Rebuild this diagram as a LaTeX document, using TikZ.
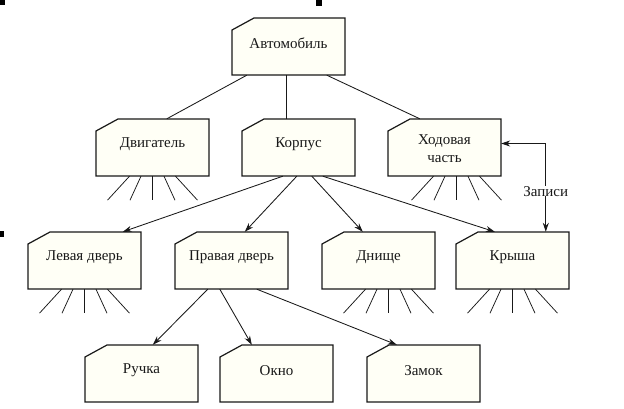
\documentclass[tikz,border=0pt]{standalone}
\usepackage{fontspec}
\setmainfont{Liberation Serif}
\usetikzlibrary{arrows.meta}
\definecolor{boxfill}{RGB}{255,255,246}
\definecolor{linec}{RGB}{25,25,25}
\tikzset{
  boxline/.style={draw=linec, line width=1.2pt, fill=boxfill},
  boxtext/.style={draw=none, rectangle, inner sep=0pt, minimum width=113pt, minimum height=57pt},
  txt/.style={font=\fontsize{15}{18}\selectfont, align=center, inner sep=0pt, text=linec},
  conn/.style={draw=linec, line width=0.85pt},
  arr/.style={conn, -{Stealth[length=9pt,width=6pt]}},
  darr/.style={conn, {Stealth[length=9pt,width=6pt]}-{Stealth[length=9pt,width=6pt]}},
  ray/.style={draw=linec, line width=0.75pt},
  speck/.style={fill=black, draw=none}
}
% name, x, y, text, vertical text shift
\newcommand\cbox[5]{%
  \path[boxline] (#2,#3+12) -- (#2+22,#3) -- (#2+113,#3) -- (#2+113,#3+57) -- (#2,#3+57) -- cycle;
  \node[boxtext, label={[txt, yshift=#5pt]center:#4}] (#1) at (#2+56.5,#3+28.5) {};}
\newcommand\rays[2]{%
  \foreach \i in {-2,...,2}{
    \draw[ray] ([xshift=#2pt+\i*11.5pt]#1.south) -- ([xshift=#2pt+\i*22.5pt,yshift=-24pt]#1.south);}}
\begin{document}
\begin{tikzpicture}[x=1pt,y=-1pt]
\useasboundingbox (0,0) rectangle (624,409);
\fill[white] (0,0) rectangle (624,409);
% scan specks
\path[speck] (0,0) rectangle (5,5);
\path[speck] (316,0) rectangle (322,6);
\path[speck] (0,231) rectangle (4,237);
% boxes
\cbox{avto}{232}{18}{Автомобиль}{3}
\cbox{dvig}{96}{119}{Двигатель}{3}
\cbox{korp}{242}{119}{Корпус}{3}
\cbox{hod}{388}{119}{Ходовая\\часть}{-1}
\cbox{lev}{28}{232}{Левая дверь}{3}
\cbox{prav}{175}{232}{Правая дверь}{3}
\cbox{dnis}{322}{232}{Днище}{3}
\cbox{krysha}{456}{232}{Крыша}{3}
\cbox{ruch}{85}{345}{Ручка}{3}
\cbox{okno}{220}{345}{Окно}{3}
\cbox{zamok}{367}{345}{Замок}{3}
% rays
\rays{dvig}{0}
\rays{hod}{12}
\rays{lev}{0}
\rays{dnis}{10}
\rays{krysha}{0}
% top level connectors
\draw[conn] ([xshift=15pt]avto.south west) -- ([xshift=71pt]dvig.north west);
\draw[conn] ([xshift=55pt]avto.south west) -- ([xshift=45pt]korp.north west);
\draw[conn] ([xshift=95pt]avto.south west) -- ([xshift=32pt]hod.north west);
% korpus children
\draw[arr] ([xshift=41pt]korp.south west) -- ([xshift=95pt]lev.north west);
\draw[arr] ([xshift=55pt]korp.south west) -- ([xshift=70pt]prav.north west);
\draw[arr] ([xshift=70pt]korp.south west) -- ([xshift=41pt]dnis.north west);
\draw[arr] ([xshift=81pt]korp.south west) -- ([xshift=39pt]krysha.north west);
% right door children
\draw[arr] ([xshift=33pt]prav.south west) -- ([xshift=68pt]ruch.north west);
\draw[arr] ([xshift=45pt]prav.south west) -- ([xshift=32pt]okno.north west);
\draw[arr] ([xshift=82pt]prav.south west) -- ([xshift=30pt]zamok.north west);
% records link
\draw[darr] ([yshift=4pt]hod.east) -| ([xshift=90pt]krysha.north west)
  node[pos=0.77, fill=white, inner sep=1pt, txt] (zap) {Записи};
\end{tikzpicture}
\end{document}
